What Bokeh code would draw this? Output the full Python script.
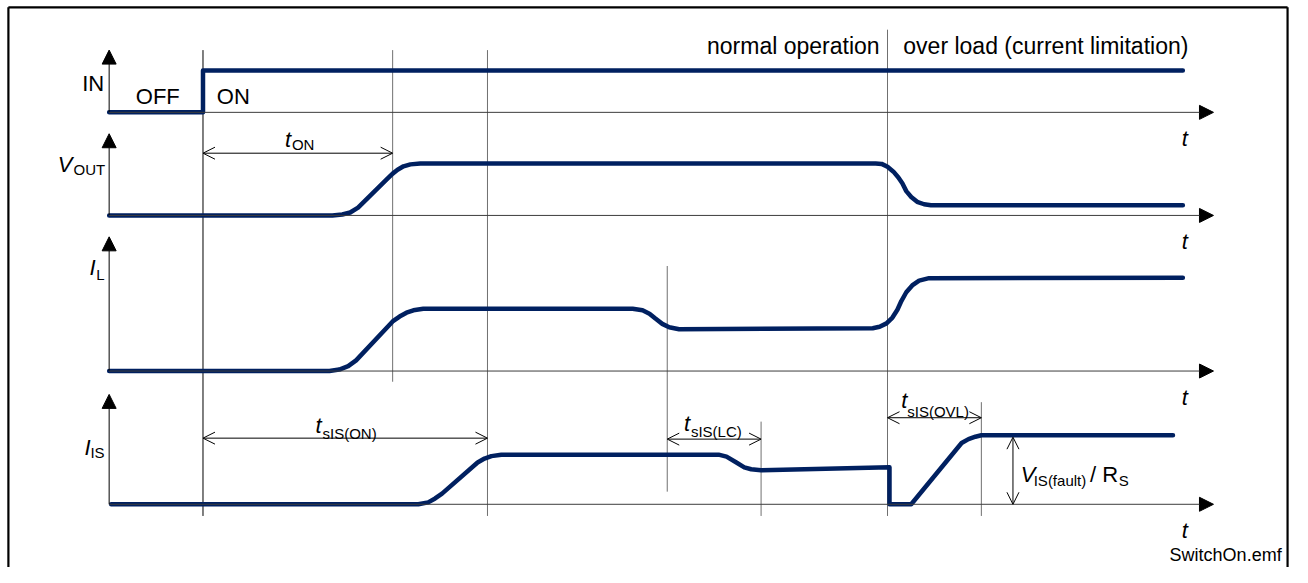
from bokeh.plotting import figure
from bokeh.models import Range1d, ColumnDataSource, Arrow, NormalHead, OpenHead
from bokeh.embed import file_html
from bokeh.resources import INLINE
from bokeh.core.properties import value

# ---------------- data ----------------
# time positions (horizontal) and signal heights above each panel's zero line
in_t = [110, 205, 205, 1197]
in_v = [0, 0, 43, 43]

vout_t = [110, 336, 346, 354, 362, 392, 397, 402, 408, 415, 425,
          886, 892, 898, 904, 909, 913, 917, 922, 928, 935, 942, 1197]
vout_v = [0, 0, 1, 3, 8, 38, 43, 47, 50.5, 52.5, 53.5,
          53.5, 53, 50, 45, 39, 33, 25, 19, 14, 11.5, 10.5, 10.5]

il_t = [110, 333, 343, 352, 360, 397, 404, 411, 418, 428,
        640, 650, 657, 663, 670, 677, 687, 883, 890, 897, 903, 908,
        912, 917, 923, 930, 940, 1197]
il_v = [0, 0, 1.5, 5, 11, 51, 56, 60, 62.5, 64,
        64, 62.5, 59, 54, 48.5, 45, 43, 44, 45.5, 49, 55, 63,
        72, 81, 88, 93, 95.5, 96]

is_t = [112, 423, 433, 440, 447, 483, 490, 497, 507, 727, 735, 745,
        753, 760, 770, 900, 900, 922, 973, 980, 987, 993, 1187]
is_v = [0, 0, 2, 6, 11, 43, 47, 49.5, 51, 51, 49, 43,
        38, 36, 35, 38, 0, 0, 63, 67, 69.5, 71, 71]

# event markers (time positions)
marker_t = [205, 397, 493, 675, 770, 898, 993]

# labels
panel_names = ["IN", "V", "I", "I"]
panel_subs = ["", "OUT", "L", "IS"]
dim_names = ["ON", "sIS(ON)", "sIS(LC)", "sIS(OVL)"]
region_left = "normal operation"
region_right = "over load (current limitation)"
state_labels = ["OFF", "ON"]
file_label = "SwitchOn.emf"

# ---------------- layout ----------------
W, H = 1292, 567
X0, X1 = 0, 1308        # drawing coordinates span the reference sheet
Y_TOP, Y_BOT = 0, 583
baselines = [115, 221, 381, 518]          # sheet y of each panel's zero line
axis_tips = [51, 137, 243, 405]           # sheet y of each vertical axis arrow tip
AX_X = 110
T_END = 1228
NAVY = "#002060"
FONT = value("Liberation Sans")

p = figure(width=W, height=H, output_backend="svg", toolbar_location=None,
           x_range=Range1d(X0, X1), y_range=Range1d(Y_BOT, Y_TOP),
           x_axis_type=None, y_axis_type=None, min_border=0,
           background_fill_color="white", border_fill_color="white")
p.xgrid.visible = False
p.ygrid.visible = False
p.outline_line_color = None

names = ["in", "vout", "il", "is"]
for n, b in zip(names, baselines):
    p.extra_y_ranges[n] = Range1d(b - Y_BOT, b - Y_TOP)

# frame (left, top, right)
p.segment(x0=[8, 8, 1303], y0=[7, 7, 7], x1=[8, 1303, 1303], y1=[583, 7, 583],
          line_color="black", line_width=2.2)

# event marker lines
mk_top = [51, 51, 51, 273, 433, 30, 413]
mk_bot = [530, 392, 530, 505, 530, 530, 530]
mk_col = ["black", "#707070", "#707070", "#707070", "#707070", "#707070", "#707070"]
p.segment(x0=marker_t, x1=marker_t, y0=mk_top, y1=mk_bot, line_color=mk_col, line_width=1)

# axes with filled arrowheads
for b, tip in zip(baselines, axis_tips):
    p.add_layout(Arrow(end=NormalHead(size=14, fill_color="black", line_color="black", line_width=1),
                       x_start=AX_X, y_start=b, x_end=AX_X, y_end=tip,
                       line_color="black", line_width=1))
    p.add_layout(Arrow(end=NormalHead(size=14, fill_color="black", line_color="black", line_width=1),
                       x_start=AX_X, y_start=b, x_end=T_END, y_end=b,
                       line_color="#3c3c3c", line_width=1))

# signals
for n, t, v in zip(names, [in_t, vout_t, il_t, is_t], [in_v, vout_v, il_v, is_v]):
    p.line(t, v, y_range_name=n, line_color=NAVY, line_width=4.5,
           line_join="round", line_cap="round")

# dimension arrows (open heads)
dim = ColumnDataSource(dict(x0=[205, 205, 675, 898, 1025], x1=[397, 493, 770, 993, 1025],
                            y0=[157, 450, 451, 429, 449], y1=[157, 450, 451, 429, 518]))
p.add_layout(Arrow(source=dim, x_start="x0", y_start="y0", x_end="x1", y_end="y1",
                   start=OpenHead(size=12, line_width=1, line_color="black"),
                   end=OpenHead(size=12, line_width=1, line_color="black"),
                   line_color="black", line_width=1))

# ---------------- texts ----------------
def txt(x, y, text, size, style="normal", align="left"):
    p.text(x=x, y=y, text=text, text_font=FONT, text_font_size=size,
           text_font_style=style, text_align=align, text_baseline="alphabetic",
           text_color="black")

# panel labels
txt([105], [85], [panel_names[0]], "22px", align="right")
txt([58, 90, 85], [169, 275, 460], panel_names[1:], "22px", style="italic")
txt([74, 97, 91], [174, 282, 465], panel_subs[1:], "15px")
# time axis labels
txt([1196] * 4, [b + 27 for b in baselines], ["t"] * 4, "22px", style="italic")
# IN states
txt([137, 219], [99, 99], state_labels, "22px")
# dimension labels
txt([288, 319, 692, 912], [143, 437, 435, 411], ["t"] * 4, "22px", style="italic")
txt([295, 326, 699, 918], [148, 445, 443, 423], dim_names, "15px")
txt([1033], [487], ["V"], "22px", style="italic")
txt([1046], [494], ["IS(fault)"], "15px")
txt([1103], [487], ["/ R"], "22px")
txt([1132], [494], ["S"], "15px")
# region labels
txt([890], [47], [region_left], "23px", align="right")
txt([914], [47], [region_right], "23px")
txt([1297], [570], [file_label], "18px", align="right")

open("out.html", "w").write(file_html(p, INLINE))
